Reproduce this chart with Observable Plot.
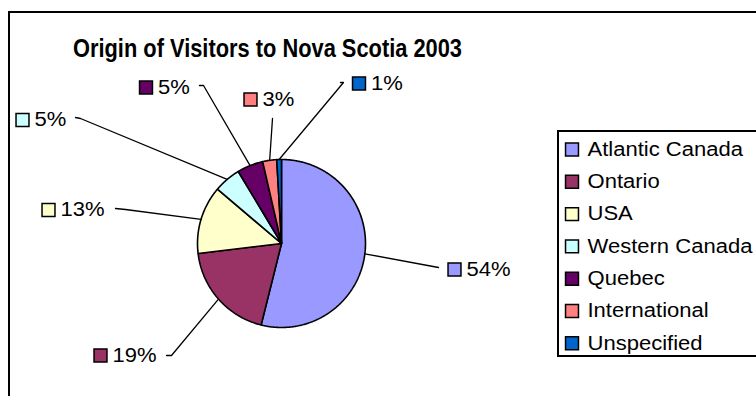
<!DOCTYPE html>
<html><head><meta charset="utf-8">
<script src="https://cdn.jsdelivr.net/npm/d3@7"></script>
<script src="https://cdn.jsdelivr.net/npm/@observablehq/plot@0.6"></script>
<style>
body{margin:0;background:#fff;overflow:hidden;font-family:"Liberation Sans",Arial,sans-serif;}
#wrap{position:relative;width:756px;height:396px;overflow:hidden;background:#fff;}
#wrap svg{position:absolute;left:0;top:0;}
.frame{position:absolute;border:2px solid #000;box-sizing:border-box;pointer-events:none;}
</style>
</head><body><div id="wrap"></div>
<script>
// ---------- DATA ----------
const categories = ["Atlantic Canada","Ontario","USA","Western Canada","Quebec","International","Unspecified"];
const shares = [53.9, 19.2, 13.1, 5.2, 5.0, 2.7, 0.9];
const pctLabels = ["54%","19%","13%","5%","5%","3%","1%"];
const colors = ["#9999FF","#993366","#FFFFCC","#CCFFFF","#660066","#FF8080","#0066CC"];
const title = "Origin of Visitors to Nova Scotia 2003";

// ---------- LAYOUT ----------
const W = 756, H = 396;
const cx = 281, cy = 243, R = 84;
// label placement (manually dragged labels in the original): tick end, elbow, square centre
const labelLayout = [
  {kx:438, ky:267, ex:438, ey:267, qx:454,   qy:269},
  {kx:166, ky:355, ex:171, ey:355, qx:100,   qy:355},
  {kx:115, ky:208, ex:125, ey:209, qx:48,    qy:209.5},
  {kx:75,  ky:117, ex:80,  ey:118, qx:22,    qy:119.5},
  {kx:199, ky:85,  ex:203, ey:85,  qx:145.5, qy:87},
  {kx:272, ky:118, ex:272, ey:118, qx:250,   qy:99},
  {kx:340, ky:82,  ex:343, ey:82,  qx:358.5, qy:83}
];
const legendX = 571.5, legendTextX = 587, legendY0 = 149, legendStep = 32.3;

// ---------- BUILD ----------
const arcs = d3.pie().sort(null).startAngle(0).endAngle(2*Math.PI)(shares);
const pt = (a, r) => ({x: cx + r*Math.sin(a), y: cy - r*Math.cos(a)});

const slicePts = [];
arcs.forEach((a, i) => {
  const name = categories[i];
  slicePts.push({name, ...pt(0,0)});
  const n = Math.max(2, Math.ceil((a.endAngle - a.startAngle)/0.01));
  for (let k = 0; k <= n; k++) {
    const ang = a.startAngle + (a.endAngle - a.startAngle)*k/n;
    slicePts.push({name, ...pt(ang, R)});
  }
  slicePts.push({name, ...pt(0,0)});
});

const leaderPts = [];
const labelData = arcs.map((a, i) => {
  const mid = (a.startAngle + a.endAngle)/2;
  const L = labelLayout[i];
  const s = pt(mid, R);
  leaderPts.push({name: categories[i], x: s.x, y: s.y});
  leaderPts.push({name: categories[i], x: L.ex, y: L.ey});
  leaderPts.push({name: categories[i], x: L.kx, y: L.ky});
  return {name: categories[i], label: pctLabels[i], qx: L.qx, qy: L.qy};
});

const legendData = categories.map((c, i) => ({name: c, y: legendY0 + i*legendStep}));

const plot = Plot.plot({
  width: W, height: H,
  margin: 0,
  style: {background: "transparent", fontFamily: '"Liberation Sans", Arial, sans-serif', overflow: "visible"},
  x: {type: "linear", domain: [0, W], range: [0, W], axis: null},
  y: {type: "linear", domain: [0, H], range: [0, H], axis: null},
  color: {domain: categories, range: colors},
  marks: [
    Plot.line(slicePts, {x: "x", y: "y", z: "name", fill: "name", stroke: "#000", strokeWidth: 1.6, curve: "linear", strokeLinejoin: "miter"}),
    Plot.line(leaderPts, {x: "x", y: "y", z: "name", stroke: "#000", strokeWidth: 1.3, curve: "linear"}),
    Plot.dot(labelData, {x: "qx", y: "qy", symbol: "square", r: 7.3, fill: "name", stroke: "#000", strokeWidth: 1.5}),
    Plot.text(labelData, {x: d => d.qx + 12, y: "qy", text: "label", textAnchor: "start", fontSize: 19.5, fill: "#000"}),
    Plot.dot(legendData, {x: () => legendX, y: "y", symbol: "square", r: 7.3, fill: "name", stroke: "#000", strokeWidth: 1.5}),
    Plot.text(legendData, {x: () => legendTextX, y: "y", text: "name", textAnchor: "start", fontSize: 19.5, fill: "#000"}),
    Plot.text([title], {x: () => 267, y: () => 48, text: d => d, textAnchor: "middle", fontSize: 26, fontWeight: "bold", fill: "#000"})
  ]
});

// horizontal glyph stretch to mimic the original rendering
const stretch = (el, s) => {
  const x = +(el.getAttribute("x") || 0);
  const t0 = el.getAttribute("transform") || "";
  el.setAttribute("transform", `${t0} translate(${x},0) scale(${s},1) translate(${-x},0)`);
};
plot.querySelectorAll("text").forEach(el => {
  const t = el.textContent;
  if (t === title) stretch(el, 0.84);
  else if (categories.includes(t) || pctLabels.includes(t)) stretch(el, 1.13);
});

const wrap = document.getElementById("wrap");
wrap.appendChild(plot);
const outer = document.createElement("div");
outer.className = "frame";
Object.assign(outer.style, {left: "8px", top: "11px", width: "800px", height: "500px"});
wrap.appendChild(outer);
const leg = document.createElement("div");
leg.className = "frame";
Object.assign(leg.style, {left: "557px", top: "130px", width: "230px", height: "227px"});
wrap.appendChild(leg);
</script>
</body></html>
